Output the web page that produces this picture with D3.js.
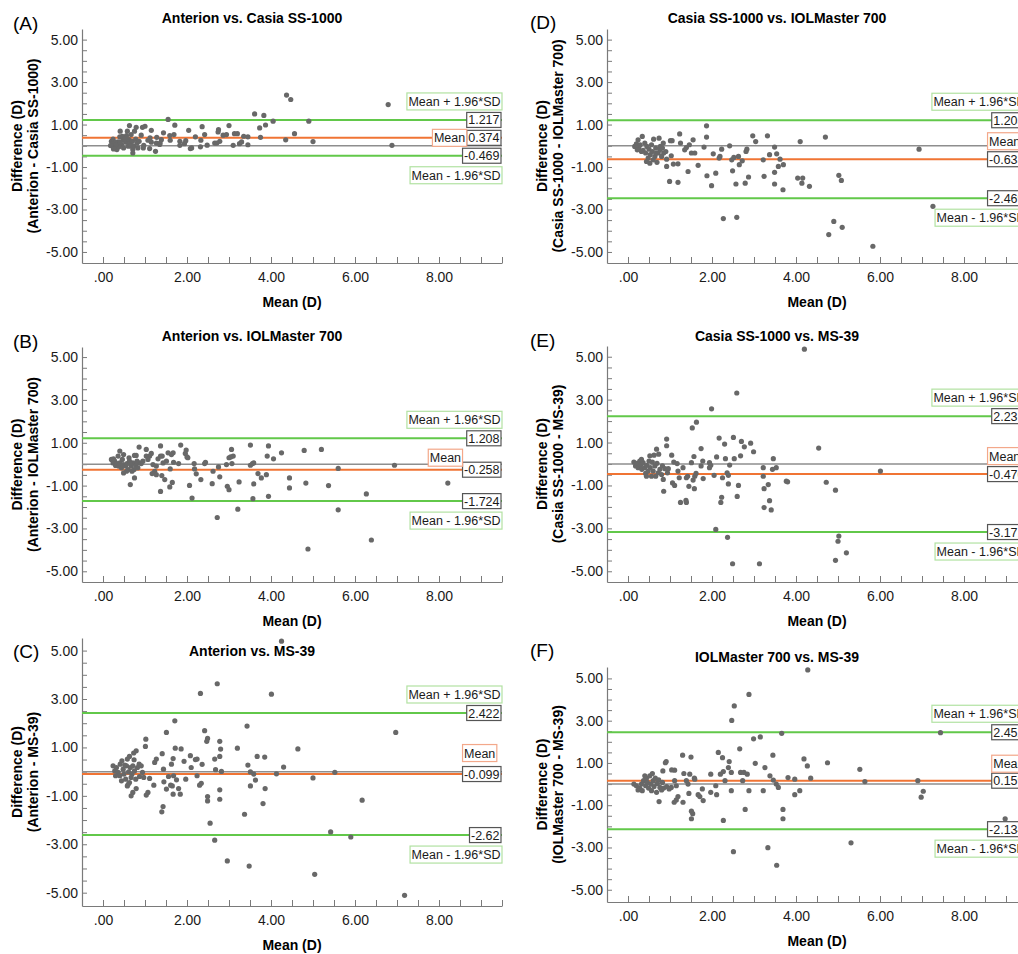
<!DOCTYPE html>
<html>
<head>
<meta charset="utf-8">
<script src="https://cdn.jsdelivr.net/npm/d3@7"></script>
<style>
  body { margin: 0; background: #fff; }
  text { font-family: "Liberation Sans", Arial, sans-serif; }
</style>
</head>
<body>
<svg id="chart" width="1018" height="954"></svg>
<script>
// ---- data ----
var panelIds = ['A', 'B', 'C', 'D', 'E', 'F'];
var panelTitles = ['Anterion vs. Casia SS-1000', 'Anterion vs. IOLMaster 700', 'Anterion vs. MS-39',
                   'Casia SS-1000 vs. IOLMaster 700', 'Casia SS-1000 vs. MS-39', 'IOLMaster 700 vs. MS-39'];
var yLabelTop = 'Difference (D)';
var yLabelBottom = ['(Anterion - Casia SS-1000)', '(Anterion - IOLMaster 700)', '(Anterion - MS-39)',
                    '(Casia SS-1000 - IOLMaster 700)', '(Casia SS-1000 - MS-39)', '(IOLMaster 700 - MS-39)'];
var xLabel = 'Mean (D)';

var meanDiff = [0.374, -0.258, -0.099, -0.633, -0.470, 0.159];
var upperLoA = [1.217, 1.208, 2.422, 1.203, 2.231, 2.452];
var lowerLoA = [-0.469, -1.724, -2.62, -2.469, -3.171, -2.134];
var meanText = ['0.374', '-0.258', '-0.099', '-0.633', '-0.470', '0.159'];
var upperText = ['1.217', '1.208', '2.422', '1.203', '2.231', '2.452'];
var lowerText = ['-0.469', '-1.724', '-2.62', '-2.469', '-3.171', '-2.134'];
var upperName = 'Mean + 1.96*SD';
var lowerName = 'Mean - 1.96*SD';
var meanName = 'Mean';

var xTickValues = [0, 2, 4, 6, 8];
var xTickLabels = ['.00', '2.00', '4.00', '6.00', '8.00'];
var yTickValues = [5, 3, 1, -1, -3, -5];
var yTickLabels = ['5.00', '3.00', '1.00', '-1.00', '-3.00', '-5.00'];

// [mean, difference]
var pointsA = [[1.55,1.24],[1.71,0.97],[3.61,1.50],[3.83,1.43],[4.05,1.16],[4.90,1.16],[4.37,2.39],[4.47,2.18],[6.79,1.94],[6.88,0.02],
  [5.0,0.2],[4.56,0.57],[4.35,0.28],[3.75,0.40],[3.73,0.84],[3.87,0.98],[3.45,0.05],[3.25,0.1],[3.45,0.42],[3.35,0.45],
  [3.13,0.57],[3.2,0.57],[3.1,0.02],[3.0,0.95],[2.94,0.53],[2.75,0.76],[2.74,0.65],[2.78,0.21],[2.66,0.13],[2.48,0.03],
  [2.42,0.53],[2.36,0.9],[2.33,0.26],[2.32,-0.05],[2.2,0.42],[2.08,-0.13],[2.04,0.73],[1.97,0.24],[1.94,0.1],[1.83,0.21],
  [1.69,0.53],[1.6,0.26],[1.59,0.48],[1.44,0.61],[1.39,0.29],[1.27,0.13],[1.25,-0.26],[1.15,0.73],[1.07,0.26],[1.0,0.92],
  [0.94,0.87],[0.91,0.50],[0.97,0.02],[0.79,0.87],[0.63,0.95],[0.71,-0.34],[1.11,-0.13],[1.15,0.17],[1.35,0.06],
  [0.2,0.21],[0.24,0.32],[0.28,-0.02],[0.33,-0.18],[0.36,0.18],[0.4,0.42],[0.41,0.69],[0.44,0.06],[0.48,0.29],[0.49,-0.1],
  [0.54,0.17],[0.56,0.48],[0.58,0.69],[0.6,-0.02],[0.62,0.29],[0.65,0.1],[0.67,0.53],[0.7,0.21],[0.73,-0.02],[0.75,0.69],
  [0.78,0.32],[0.81,0.13],[0.83,-0.1],[0.22,0.1],[0.3,0.17],[0.25,-0.15],[0.38,-0.05],[0.46,0.45],[0.52,0.32],[0.67,-0.02],
  [0.71,-0.18],[0.86,0.21],[0.18,0.01],[0.32,0.06],[0.41,0.17],[1.83,0.02],[1.36,0.13],[2.11,-0.1],[2.86,0.5],[2.71,0.13],
  [3.3,0.18],[0.96,-0.1],[1.28,0.4],[1.12,0.37]];

var pointsB = [[0.4,0.61],[0.49,0.45],[0.36,0.38],[0.65,-0.95],[0.75,-0.64],[0.62,0.3],[0.75,0.41],[0.79,0.41],[0.86,0.8],[0.87,0.06],
  [1.03,0.69],[1.11,0.38],[1.15,0.5],[1.03,0.38],[1.07,0.22],[1.19,-0.02],[1.23,-0.33],[1.17,-0.44],[1.27,-0.49],[1.27,-0.09],
  [1.31,0.25],[1.37,0.38],[1.37,0.85],[1.41,0.38],[1.4,-0.53],[1.37,-1.27],[1.47,-0.72],[1.43,0.06],[1.51,0.14],[1.55,0.53],
  [1.6,-0.22],[1.63,0.45],[1.65,-0.85],[1.59,-1.06],[1.67,0.53],[1.68,0.09],[1.8,0.03],[1.85,0.89],[1.98,0.66],[1.96,0.5],
  [2.0,0.34],[2.02,0.3],[2.06,-0.99],[2.12,-1.58],[2.17,0.03],[2.18,-0.22],[2.22,-0.45],[2.33,-0.72],[2.42,0.03],[2.44,0.09],
  [2.6,-0.91],[2.62,-0.33],[2.72,-2.49],[2.75,-0.13],[2.78,-0.59],[2.94,-0.02],[2.96,-1.03],[3.0,-1.19],[3.0,0.3],[3.04,0.34],
  [3.06,0.69],[3.07,0.03],[3.1,0.38],[3.21,-2.1],[3.24,-0.83],[3.51,0.89],[3.51,-0.05],[3.56,0.03],[3.57,-1.61],[3.59,-0.92],
  [3.59,0.06],[3.69,-0.44],[3.77,-0.64],[3.89,-0.49],[3.91,0.38],[3.94,0.85],[3.94,-1.5],[4.06,0.25],[4.25,0.53],[4.44,-0.64],
  [4.44,-1.11],[4.79,0.64],[4.83,-0.88],[4.88,-3.96],[5.2,0.69],[5.37,-1.0],[5.6,-0.2],[5.6,-2.13],[6.27,-1.39],[6.39,-3.54],
  [6.94,-0.05],[8.21,-0.88],
  [0.2,0.22],[0.24,0.06],[0.28,0.14],[0.3,-0.06],[0.33,0.03],[0.37,-0.09],[0.4,0.06],[0.44,-0.17],[0.48,-0.02],[0.49,-0.41],
  [0.54,-0.09],[0.57,0.03],[0.6,-0.25],[0.63,0.14],[0.67,-0.09],[0.71,0.06],[0.74,-0.25],[0.78,-0.06],[0.81,0.14],[0.83,-0.17],
  [0.91,0.03],[0.95,0.14],[0.69,-0.33],[0.25,0.25],[0.46,0.22],[0.56,-0.33],[0.65,0.03]];

var pointsC = [[4.25,5.39],[2.72,3.63],[2.32,3.23],[4.01,3.2],[1.71,2.1],[1.51,1.62],[2.42,1.69],[3.43,1.88],[6.97,1.62],[1.02,1.34],
  [1.01,1.04],[0.79,0.86],[0.73,0.77],[0.74,0.49],[0.63,0.63],[1.72,0.97],[1.86,0.94],[2.49,1.37],[2.47,1.25],[2.78,1.25],
  [2.8,0.93],[3.2,0.97],[4.64,0.94],[3.67,0.63],[3.85,0.6],[1.41,0.74],[1.27,0.52],[1.23,0.38],[1.67,0.54],[1.93,0.42],
  [2.08,0.66],[2.2,0.5],[2.24,0.52],[2.36,0.3],[2.66,0.52],[2.78,0.63],[2.1,0.17],[1.63,0.31],[3.45,0.27],[4.3,0.19],
  [2.82,0.01],[2.68,0.08],[3.51,-0.01],[3.59,-0.1],[4.13,-0.09],[5.52,-0.03],[5.0,-0.26],[1.75,-0.34],[1.97,-0.31],[2.24,-0.17],
  [2.34,-0.48],[2.3,-0.56],[1.56,-0.2],[1.45,-0.42],[1.51,-0.72],[1.61,-0.56],[1.67,-0.93],[1.65,-0.59],[1.8,-0.7],[1.84,-0.93],
  [1.68,-0.17],[1.44,0.1],[1.11,-0.28],[1.21,-0.56],[1.07,-0.86],[1.03,-0.97],[0.79,-0.7],[0.71,-0.86],[0.67,-1.0],[0.63,-0.45],
  [0.58,-0.59],[3.51,-0.59],[3.63,-0.35],[3.86,-0.7],[3.81,-1.32],[3.37,-1.76],[2.78,-0.75],[2.78,-1.14],[2.49,-1.03],[2.49,-1.21],
  [1.43,-1.44],[1.4,-1.66],[2.55,-2.13],[2.66,-2.83],[2.96,-3.69],[3.48,-3.9],[5.04,-4.24],[5.42,-2.49],[5.9,-2.7],[6.17,-1.18],
  [7.18,-5.11],
  [0.24,0.24],[0.28,0.03],[0.32,0.17],[0.36,-0.03],[0.4,-0.17],[0.41,0.31],[0.45,0.45],[0.48,0.1],[0.5,-0.1],[0.54,-0.31],
  [0.56,0.24],[0.58,0.52],[0.61,-0.01],[0.65,0.17],[0.69,-0.1],[0.71,0.24],[0.75,0.03],[0.78,-0.31],[0.82,0.17],[0.86,0.31],
  [0.87,-0.2],[0.91,0.24],[0.94,-0.03],[0.97,-0.24],[0.3,-0.17],[0.6,-0.52],[0.67,-0.24],[0.44,-0.38],[0.52,0.27]];

var pointsD = [[1.87,0.94],[1.87,0.41],[2.97,0.47],[3.32,0.47],[4.7,0.41],[4.1,0.2],[3.04,0.2],[6.93,-0.16],[1.23,0.56],[1.01,0.24],
  [1.05,0.24],[1.25,0.13],[1.55,0.28],[1.46,0.05],[1.39,-0.08],[1.35,-0.19],[1.51,-0.34],[1.59,-0.34],[1.81,-0.06],[2.23,-0.16],
  [2.42,0.0],[2.03,-0.38],[2.19,-0.5],[2.17,-0.58],[2.47,-0.66],[2.52,-0.55],[2.63,-0.5],[2.65,-0.89],[2.49,-1.18],[2.72,-0.71],
  [2.83,-0.16],[2.81,-0.27],[3.37,-0.42],[3.49,-0.06],[3.54,-0.38],[3.62,-0.63],[3.58,-0.97],[3.7,-0.89],[3.49,-1.25],[3.22,-0.66],
  [3.24,-1.44],[2.87,-1.47],[2.79,-1.76],[2.57,-1.8],[3.69,-2.07],[3.49,-1.8],[4.04,-1.52],[4.16,-1.52],[4.14,-1.76],[4.32,-1.91],
  [5.02,-1.39],[5.08,-1.63],[1.99,-1.88],[1.88,-1.41],[2.09,-1.29],[1.67,-0.92],[1.43,-1.21],[1.19,-1.72],[0.99,-1.68],[1.19,-0.85],
  [1.08,-0.86],[0.92,-0.97],[0.92,-0.63],[1.03,-0.47],[0.85,-0.34],[2.27,-3.43],[2.59,-3.37],[7.26,-2.85],[4.78,-4.18],[4.9,-3.56],
  [5.1,-3.84],[5.83,-4.73],
  [0.16,-0.03],[0.2,0.09],[0.24,0.28],[0.26,-0.11],[0.29,0.05],[0.34,0.44],[0.36,-0.22],[0.4,0.13],[0.42,-0.34],[0.45,-0.03],
  [0.48,-0.58],[0.5,-0.16],[0.53,-0.42],[0.56,0.05],[0.58,-0.27],[0.61,0.31],[0.64,-0.5],[0.66,-0.11],[0.69,-0.78],[0.72,-0.34],
  [0.74,0.36],[0.76,-0.19],[0.77,-0.03],[0.8,-0.5],[0.82,-0.11],[0.84,0.13],[0.52,-0.82],[0.44,-0.74],[0.32,-0.27],[0.22,-0.19],
  [0.6,-0.66],[0.68,-0.34],[0.9,-0.27]];

var pointsE = [[4.2,5.35],[2.59,3.31],[1.99,2.57],[1.63,1.95],[1.53,1.68],[2.17,1.21],[2.51,1.24],[2.3,0.93],[2.7,1.05],[2.92,0.97],
  [2.77,0.8],[2.99,0.57],[1.74,0.72],[0.92,1.16],[0.92,0.85],[0.68,0.69],[0.73,0.46],[1.04,0.41],[4.54,0.74],[2.11,0.33],
  [1.57,0.35],[1.78,0.14],[1.51,0.06],[1.94,0.06],[2.32,0.25],[2.53,0.25],[2.68,0.38],[3.46,0.25],[2.42,-0.05],[1.74,-0.09],
  [1.94,-0.17],[1.97,-0.06],[1.09,0.09],[1.17,0.02],[1.31,-0.17],[1.19,-0.33],[0.94,-0.41],[0.96,-0.22],[0.84,-0.72],[0.85,-1.27],
  [1.06,-0.88],[1.11,-1.0],[1.22,-0.64],[1.39,-0.64],[1.42,-0.57],[1.59,-0.57],[1.62,-0.44],[1.55,-0.75],[1.45,-1.04],[1.58,-1.15],
  [1.79,-0.68],[2.05,-0.53],[2.25,-0.64],[2.36,-0.41],[2.39,-0.53],[2.39,-0.93],[2.63,-1.0],[2.6,-1.51],[2.23,-1.55],[2.21,-1.79],
  [1.25,-1.79],[1.39,-1.79],[1.38,-1.7],[3.22,-0.17],[3.22,-0.57],[3.24,-1.15],[3.34,-0.96],[3.24,-2.03],[3.37,-1.71],[3.41,-2.14],
  [3.44,-0.25],[3.53,-0.17],[3.77,-0.8],[3.8,-0.83],[4.72,-0.85],[4.94,-1.22],[6.01,-0.33],[2.09,-3.05],[2.37,-3.42],[2.49,-4.65],
  [3.13,-4.65],[5.02,-3.36],[5.0,-3.6],[5.2,-4.14],[4.94,-4.49],
  [0.14,0.09],[0.18,-0.09],[0.21,0.03],[0.24,-0.17],[0.28,0.14],[0.3,-0.06],[0.33,-0.25],[0.36,0.06],[0.4,-0.17],[0.42,-0.44],
  [0.45,-0.06],[0.48,-0.33],[0.52,0.38],[0.53,-0.17],[0.56,-0.57],[0.58,0.09],[0.6,-0.33],[0.64,-0.09],[0.66,-0.57],[0.69,0.03],
  [0.72,-0.41],[0.76,-0.25],[0.8,-0.49],[0.82,-0.09],[0.32,0.22],[0.5,0.14],[0.44,-0.57],[0.62,0.41],[0.88,-0.22]];

var pointsF = [[4.28,5.4],[2.88,4.24],[2.53,3.7],[2.47,3.01],[3.66,2.4],[7.44,2.43],[2.99,2.14],[3.15,2.23],[2.66,1.67],[1.3,1.37],
  [1.5,1.28],[2.15,1.5],[2.25,1.25],[2.41,1.06],[2.39,0.78],[3.03,0.98],[3.26,0.78],[3.45,1.37],[4.19,1.19],[4.27,0.86],
  [4.75,1.01],[5.52,0.7],[5.64,0.12],[6.9,0.16],[7.03,-0.34],[6.98,-0.62],[8.98,-1.64],[5.31,-2.78],[3.54,-3.84],[3.33,-3.01],
  [2.51,-3.2],[2.27,-1.72],[1.51,-1.64],[1.54,-1.4],[1.51,-1.28],[3.69,-1.64],[3.69,-1.2],[2.79,-1.2],[1.1,-0.86],[1.15,-0.75],
  [1.19,-0.59],[1.31,-0.86],[0.74,-0.83],[1.45,-0.44],[1.67,-0.5],[1.71,-0.59],[1.79,-0.78],[1.77,-0.23],[2.11,-0.5],[1.97,-0.39],
  [2.46,-0.31],[2.88,-0.31],[3.22,-0.31],[3.97,-0.5],[4.09,-0.31],[3.58,-0.16],[3.53,0.0],[3.46,0.19],[3.38,0.39],[2.73,0.16],
  [2.31,0.16],[2.27,0.59],[2.2,0.47],[2.46,0.55],[2.68,0.55],[2.76,0.55],[2.84,0.47],[1.97,0.47],[2.09,-0.08],[3.81,0.31],
  [3.97,0.23],[4.35,0.28],[1.43,0.0],[1.47,0.47],[1.58,0.28],[1.59,0.23],[1.39,0.16],[1.33,0.5],[1.11,0.66],[1.04,0.67],
  [0.91,1.06],[0.89,1.01],[0.83,0.62],[1.11,0.16],[1.15,-0.08],
  [0.14,0.0],[0.2,-0.08],[0.24,-0.28],[0.28,-0.19],[0.32,0.0],[0.34,-0.31],[0.37,0.16],[0.4,0.39],[0.42,-0.08],[0.44,0.28],
  [0.46,0.08],[0.49,-0.19],[0.52,0.39],[0.54,0.0],[0.56,-0.31],[0.58,0.5],[0.6,0.16],[0.62,-0.12],[0.65,0.28],[0.68,-0.39],
  [0.7,0.03],[0.73,0.2],[0.76,-0.16],[0.8,-0.28],[0.82,0.08],[0.85,-0.19],[0.92,-0.12],[0.98,-0.23],[1.03,-0.16]];

var panelPoints = [pointsA, pointsB, pointsC, pointsD, pointsE, pointsF];

// ---- layout (page pixels) ----
var colX = [0, 525];
var panelLayout = [
  {col: 0, top: 29,  bottom: 263, yDom: [-5.52, 5.5],  titleY: 18,  letterY: 23,  meanMode: 'left',  meanDy: 0},
  {col: 0, top: 347, bottom: 582, yDom: [-5.5, 5.47],  titleY: 336, letterY: 341, meanMode: 'left',  meanDy: -12},
  {col: 0, top: 638, bottom: 906, yDom: [-5.55, 5.52], titleY: 651, letterY: 651, meanMode: 'above', meanDy: -21},
  {col: 1, top: 29,  bottom: 263, yDom: [-5.52, 5.5],  titleY: 18,  letterY: 22,  meanMode: 'above', meanDy: -18},
  {col: 1, top: 346, bottom: 582, yDom: [-5.5, 5.5],   titleY: 336, letterY: 340, meanMode: 'above', meanDy: -18},
  {col: 1, top: 667, bottom: 902, yDom: [-5.58, 5.54], titleY: 657, letterY: 650, meanMode: 'above', meanDy: -17}
];
var letterX = [13, 530];

var green = '#62c84a', orange = '#f07434', zeroGray = '#8e8e8e', axisGray = '#7a7a7a', dotGray = '#686868';
var boxFont = 12.5;

var svg = d3.select('#chart');

panelIds.forEach(function(id, i) {
  var L = panelLayout[i];
  var x0 = colX[L.col];
  var left = x0 + 82, right = x0 + 502;

  var x = d3.scaleLinear().domain([-0.5, 9.5]).range([left, right]);
  var y = d3.scaleLinear().domain(L.yDom).range([L.bottom, L.top]);

  var g = svg.append('g').attr('class', 'panel-' + id);

  // panel letter and title
  g.append('text').attr('x', x0 + letterX[L.col] - x0).attr('y', L.letterY).attr('dy', '0.35em')
    .style('font-size', '19px').text('(' + id + ')');
  g.append('text').attr('x', x0 + 252).attr('y', L.titleY).attr('dy', '0.35em')
    .attr('text-anchor', 'middle').style('font-size', '14px').style('font-weight', 'bold')
    .text(panelTitles[i]);

  // axes, ticks pointing inward every 0.5
  var yAxis = d3.axisLeft(y)
    .tickValues(d3.range(-5, 5.01, 0.5))
    .tickSizeInner(-5).tickSizeOuter(0).tickPadding(4)
    .tickFormat(function(d) {
      var k = yTickValues.indexOf(d);
      return k >= 0 ? yTickLabels[k] : '';
    });
  var xAxis = d3.axisBottom(x)
    .tickValues(d3.range(0, 9.51, 0.5))
    .tickSizeInner(-6).tickSizeOuter(0).tickPadding(9)
    .tickFormat(function(d) {
      var k = xTickValues.indexOf(d);
      return k >= 0 ? xTickLabels[k] : '';
    });

  var ya = g.append('g').attr('transform', 'translate(' + left + ',0)').call(yAxis);
  var xa = g.append('g').attr('transform', 'translate(0,' + L.bottom + ')').call(xAxis);
  [ya, xa].forEach(function(a) {
    a.select('.domain').attr('stroke', axisGray).attr('stroke-width', 1.2);
    a.selectAll('.tick line').attr('stroke', axisGray);
    a.selectAll('.tick text').attr('fill', '#1a1a1a')
      .style('font-size', '14px').style('font-family', '"Liberation Sans", Arial, sans-serif');
  });

  // axis titles
  g.append('text').attr('x', (left + right) / 2).attr('y', L.bottom + 39).attr('dy', '0.35em')
    .attr('text-anchor', 'middle').style('font-size', '14px').style('font-weight', 'bold').text(xLabel);
  var yl = g.append('g')
    .attr('transform', 'translate(' + (x0 + 25) + ',' + ((L.top + L.bottom) / 2) + ') rotate(-90)');
  yl.append('text').attr('y', -8).attr('dy', '0.35em').attr('text-anchor', 'middle')
    .style('font-size', '14px').style('font-weight', 'bold').text(yLabelTop);
  yl.append('text').attr('y', 8).attr('dy', '0.35em').attr('text-anchor', 'middle')
    .style('font-size', '14px').style('font-weight', 'bold').text(yLabelBottom[i]);

  // reference lines
  var refs = [
    {v: 0, c: zeroGray, w: 1.5},
    {v: meanDiff[i], c: orange, w: 2},
    {v: upperLoA[i], c: green, w: 2},
    {v: lowerLoA[i], c: green, w: 2}
  ];
  g.selectAll('line.ref').data(refs).enter().append('line').attr('class', 'ref')
    .attr('x1', left).attr('x2', right)
    .attr('y1', function(d) { return y(d.v); }).attr('y2', function(d) { return y(d.v); })
    .attr('stroke', function(d) { return d.c; }).attr('stroke-width', function(d) { return d.w; });

  // points
  g.selectAll('circle').data(panelPoints[i]).enter().append('circle')
    .attr('cx', function(d) { return x(d[0]); })
    .attr('cy', function(d) { return y(d[1]); })
    .attr('r', 2.6).attr('fill', dotGray);

  // boxed labels, right-aligned at the plot edge
  function box(txt, rightEdge, cy, h, stroke) {
    var bg = g.append('g');
    var r = bg.append('rect');
    var t = bg.append('text').attr('y', cy).attr('dy', '0.36em')
      .style('font-size', boxFont + 'px').attr('fill', '#1a1a1a').text(txt);
    var w = t.node().getComputedTextLength() + 3;
    t.attr('x', rightEdge - w + 1.5);
    r.attr('x', rightEdge - w).attr('y', cy - h / 2).attr('width', w).attr('height', h)
      .attr('fill', '#fff').attr('stroke', stroke).attr('stroke-width', 1.2);
    return {left: rightEdge - w, width: w};
  }
  function boxLeft(txt, leftEdge, cy, h, stroke) {
    var bg = g.append('g');
    var r = bg.append('rect');
    var t = bg.append('text').attr('x', leftEdge + 1.5).attr('y', cy).attr('dy', '0.36em')
      .style('font-size', boxFont + 'px').attr('fill', '#1a1a1a').text(txt);
    var w = t.node().getComputedTextLength() + 3;
    r.attr('x', leftEdge).attr('y', cy - h / 2).attr('width', w).attr('height', h)
      .attr('fill', '#fff').attr('stroke', stroke).attr('stroke-width', 1.2);
  }

  var yu = y(upperLoA[i]), ym = y(meanDiff[i]), yd = y(lowerLoA[i]);
  box(upperName, right, yu - 18.5, 17, '#b2e2a2');
  box(lowerName, right, yd + 19.5, 17, '#b2e2a2');
  box(upperText[i], right - 1, yu, 15, '#555');
  box(lowerText[i], right - 1, yd, 15, '#555');
  var mv = box(meanText[i], right - 1, ym, 15, '#555');
  if (L.meanMode === 'left') {
    box(meanName, mv.left, ym + L.meanDy, 17, '#f3a88a');
  } else {
    boxLeft(meanName, mv.left, ym + L.meanDy, 17, '#f3a88a');
  }
});
</script>
</body>
</html>
